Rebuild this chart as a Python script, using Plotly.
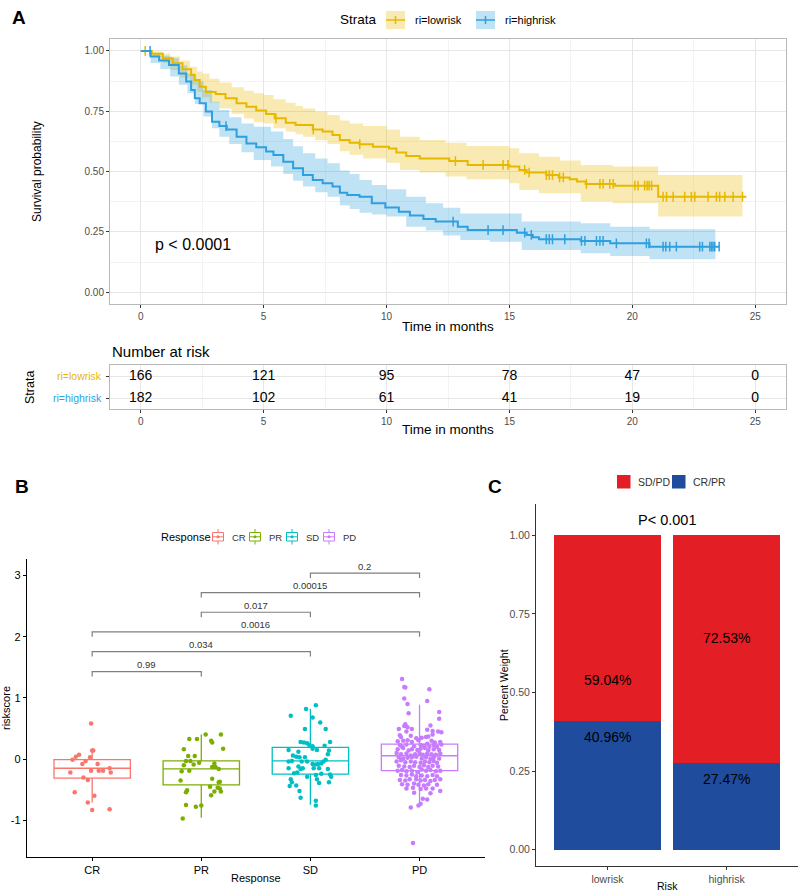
import bisect
import plotly.graph_objects as go

W, H = 800, 892
FONT = "Liberation Sans, Arial, Helvetica, sans-serif"

# ---------------- Panel A : Kaplan-Meier data ----------------
strata = ["ri=lowrisk", "ri=highrisk"]

low_time = [0, 0.45, 0.9, 1.3, 1.7, 2.05, 2.2, 2.4, 2.65, 3.05, 3.45, 3.9, 4.3, 4.7, 5.1,
            5.45, 5.9, 6.3, 7.0, 7.4, 7.8, 8.1, 8.5, 8.9, 9.45, 10.1, 10.4, 10.8, 11.35, 12.55,
            13.3, 15.0, 15.4, 15.7, 16.5, 17.0, 17.45, 17.75, 18.1, 19.3, 21.05, 24.64]
low_surv = [1.0, 0.988, 0.97, 0.949, 0.924, 0.90, 0.88, 0.852, 0.83, 0.822, 0.804, 0.783, 0.769,
            0.753, 0.739, 0.721, 0.703, 0.693, 0.675, 0.666, 0.652, 0.631, 0.62, 0.614, 0.603,
            0.596, 0.579, 0.565, 0.555, 0.544, 0.528, 0.521, 0.507, 0.496, 0.486, 0.476, 0.468,
            0.459, 0.449, 0.442, 0.396, 0.396]
low_band_time = [0, 0.5, 0.9, 1.2, 1.6, 2.0, 2.3, 2.5, 2.8, 3.2, 3.7, 4.2, 4.6, 5.0, 5.4, 5.9,
                 6.3, 6.6, 7.1, 7.6, 8.1, 8.5, 9.05, 10.0, 10.55, 11.35, 12.4, 13.25, 15.0, 15.4,
                 16.2, 17.05, 17.9, 19.2, 21.05, 24.48]
low_upper = [1.0, 0.998, 0.99, 0.977, 0.96, 0.935, 0.915, 0.907, 0.885, 0.869, 0.85, 0.835, 0.825,
             0.818, 0.80, 0.785, 0.772, 0.762, 0.748, 0.735, 0.712, 0.70, 0.689, 0.675, 0.645,
             0.631, 0.62, 0.606, 0.597, 0.576, 0.562, 0.546, 0.528, 0.521, 0.486, 0.486]
low_lower = [1.0, 0.975, 0.95, 0.921, 0.89, 0.86, 0.83, 0.808, 0.785, 0.762, 0.74, 0.72, 0.705,
             0.70, 0.68, 0.665, 0.655, 0.645, 0.63, 0.615, 0.585, 0.57, 0.555, 0.537, 0.507,
             0.496, 0.48, 0.468, 0.452, 0.424, 0.41, 0.41, 0.376, 0.369, 0.314, 0.314]
low_censor = [0.18, 5.5, 7.02, 8.91, 12.8, 13.93, 14.74, 14.94, 15.62, 15.8, 16.5, 16.62, 16.75,
              17.04, 17.19, 18.13, 18.68, 18.81, 19.08, 19.22, 20.1, 20.23, 20.5, 20.6, 20.68,
              20.78, 21.25, 21.39, 21.66, 22.13, 22.4, 22.54, 23.08, 23.42, 23.55, 23.76, 24.1, 24.48]

high_time = [0, 0.4, 0.75, 1.15, 1.55, 1.85, 2.05, 2.2, 2.4, 2.65, 2.9, 3.2, 3.5, 3.9, 4.3, 4.7,
             5.1, 5.4, 5.8, 6.2, 6.6, 7.0, 7.4, 7.8, 8.1, 8.4, 8.9, 9.4, 9.95, 10.5, 10.95, 11.5,
             12.0, 12.9, 13.3, 15.3, 15.7, 15.95, 16.2, 17.9, 19.1, 20.7, 23.55]
high_surv = [1.0, 0.977, 0.96, 0.942, 0.907, 0.873, 0.838, 0.804, 0.783, 0.749, 0.707, 0.689,
             0.675, 0.645, 0.617, 0.601, 0.583, 0.569, 0.541, 0.514, 0.486, 0.465, 0.452, 0.438,
             0.413, 0.403, 0.396, 0.369, 0.351, 0.334, 0.318, 0.304, 0.293, 0.272, 0.258, 0.247,
             0.238, 0.228, 0.22, 0.213, 0.203, 0.189, 0.189]
high_band_time = [0, 0.4, 0.8, 1.2, 1.55, 1.9, 2.2, 2.55, 2.9, 3.2, 3.6, 4.1, 4.6, 5.3, 5.8, 6.2,
                  6.6, 7.1, 7.6, 8.1, 8.5, 8.9, 9.4, 10.0, 10.8, 11.6, 12.3, 13.0, 14.2, 15.5, 17.9,
                  19.1, 20.7, 23.38]
high_upper = [1.0, 0.99, 0.98, 0.97, 0.94, 0.907, 0.875, 0.838, 0.79, 0.755, 0.725, 0.70, 0.686,
              0.666, 0.635, 0.605, 0.576, 0.555, 0.535, 0.505, 0.49, 0.465, 0.445, 0.427, 0.396,
              0.369, 0.35, 0.327, 0.327, 0.293, 0.286, 0.272, 0.261, 0.261]
high_lower = [1.0, 0.95, 0.925, 0.894, 0.86, 0.825, 0.78, 0.728, 0.68, 0.645, 0.615, 0.58, 0.548,
              0.521, 0.49, 0.462, 0.438, 0.415, 0.396, 0.36, 0.345, 0.33, 0.322, 0.314, 0.272,
              0.256, 0.235, 0.217, 0.21, 0.175, 0.162, 0.151, 0.137, 0.137]
high_censor = [0.38, 3.47, 12.71, 14.13, 14.74, 15.62, 15.89, 16.5, 16.62, 16.75, 17.25, 17.93,
               18.07, 18.54, 18.68, 18.81, 19.35, 20.57, 20.68, 21.25, 21.36, 21.52, 21.79,
               22.74, 22.85, 23.15, 23.22, 23.28, 23.35, 23.53]

risk_times = [0, 5, 10, 15, 20, 25]
risk_low = [166, 121, 95, 78, 47, 0]
risk_high = [182, 102, 61, 41, 19, 0]
p_text = "p < 0.0001"

# ---------------- Panel B : riskscore by response ----------------
response_cats = ["CR", "PR", "SD", "PD"]
box_q1 = [-0.31, -0.42, -0.245, -0.19]
box_med = [-0.15, -0.16, -0.03, 0.055]
box_q3 = [-0.01, -0.03, 0.19, 0.245]
box_lo = [-0.71, -0.96, -0.745, -0.78]
box_hi = [0.14, 0.40, 0.82, 0.89]

cr_points = [(-0.01, 0.58), (0.00, 0.14), (0.01, 0.14), (-0.02, 0.03), (-0.12, 0.07), (-0.15, 0.04),
             (-0.18, -0.01), (-0.06, -0.03), (-0.09, -0.08), (0.05, -0.08), (-0.01, -0.19),
             (0.06, -0.19), (0.10, -0.19), (0.16, -0.15), (0.17, -0.22), (-0.20, -0.22),
             (-0.08, -0.30), (-0.04, -0.34), (-0.16, -0.54), (0.02, -0.60), (-0.04, -0.71),
             (0.00, -0.83), (0.16, -0.82)]
pr_points = [(0.04, 0.40), (0.18, 0.40), (-0.11, 0.33), (-0.04, 0.33), (0.09, 0.30), (0.10, 0.27),
             (0.20, 0.17), (-0.16, 0.16), (-0.12, 0.05), (-0.06, 0.05), (-0.14, -0.03),
             (-0.10, -0.03), (-0.02, -0.06), (-0.07, -0.09), (-0.16, -0.10), (0.10, -0.13),
             (0.12, -0.12), (0.13, -0.13), (0.12, -0.07), (0.16, -0.16), (-0.18, -0.20),
             (-0.11, -0.19), (-0.19, -0.35), (0.10, -0.32), (0.16, -0.38), (0.17, -0.37),
             (0.08, -0.45), (0.15, -0.47), (0.17, -0.48), (-0.13, -0.51), (-0.14, -0.54),
             (0.12, -0.53), (0.18, -0.53), (0.09, -0.59), (-0.14, -0.75), (-0.05, -0.78),
             (0.00, -0.76), (-0.17, -0.97)]
sd_points = [(0.05, 0.88), (-0.04, 0.82), (-0.18, 0.71), (0.02, 0.68), (0.09, 0.60), (-0.05, 0.49),
             (0.14, 0.49), (-0.09, 0.28), (-0.06, 0.27), (-0.03, 0.26), (-0.01, 0.23), (0.02, 0.21),
             (0.02, 0.17), (0.13, 0.22), (0.18, 0.28), (0.17, 0.14), (0.16, 0.08), (0.06, 0.15),
             (-0.20, 0.15), (-0.16, 0.06), (-0.11, 0.12), (-0.13, 0.04), (-0.10, 0.03),
             (-0.05, 0.03), (-0.20, -0.04), (-0.17, -0.03), (-0.08, -0.04), (-0.03, -0.04),
             (0.02, -0.08), (0.05, -0.09), (0.07, -0.08), (0.10, -0.07), (0.12, -0.04),
             (0.14, -0.01), (-0.20, -0.15), (-0.11, -0.12), (-0.09, -0.16), (-0.07, -0.15),
             (0.03, -0.15), (0.08, -0.15), (0.16, -0.16), (-0.15, -0.23), (-0.12, -0.22),
             (-0.03, -0.29), (0.05, -0.26), (0.10, -0.24), (0.18, -0.25), (0.19, -0.29),
             (-0.18, -0.33), (-0.17, -0.38), (0.06, -0.33), (0.08, -0.39), (0.17, -0.38),
             (-0.19, -0.44), (-0.13, -0.43), (-0.10, -0.52), (-0.09, -0.63), (0.05, -0.68),
             (0.05, -0.76)]
pd_points = [(-0.16, 1.31), (-0.14, 1.18), (-0.13, 1.17), (0.09, 1.14), (-0.14, 0.99), (0.07, 0.95),
             (-0.11, 0.90), (-0.10, 0.75), (0.18, 0.77), (0.18, 0.66), (-0.13, 0.57), (-0.19, 0.49),
             (-0.14, 0.54), (-0.11, 0.52), (-0.07, 0.49), (-0.12, 0.45), (0.10, 0.55), (0.12, 0.46),
             (0.17, 0.45), (0.20, 0.44), (0.07, 0.48), (0.12, 0.40), (0.06, 0.36), (-0.18, 0.39),
             (-0.17, 0.36), (-0.08, 0.38), (-0.03, 0.34), (0.02, 0.35), (0.08, 0.37),
             (-0.20, 0.29), (-0.15, 0.30), (-0.11, 0.31), (-0.07, 0.28), (-0.01, 0.31), (0.11, 0.30),
             (0.14, 0.27), (0.19, 0.28),
             (-0.18, 0.23), (-0.16, 0.20), (-0.12, 0.24), (-0.05, 0.21), (0.01, 0.23), (0.04, 0.22),
             (0.07, 0.25), (0.09, 0.20), (0.13, 0.23), (0.16, 0.20), (0.20, 0.24),
             (-0.20, 0.16), (-0.15, 0.18), (-0.10, 0.14), (-0.07, 0.16), (-0.02, 0.15), (0.01, 0.17),
             (0.05, 0.18), (0.08, 0.14), (0.13, 0.16), (0.18, 0.15),
             (-0.21, 0.10), (-0.17, 0.08), (-0.12, 0.09), (-0.08, 0.06), (-0.04, 0.08), (0.00, 0.10),
             (0.03, 0.07), (0.07, 0.09), (0.11, 0.08), (0.15, 0.07), (0.19, 0.09),
             (-0.19, 0.03), (-0.15, 0.01), (-0.11, 0.02), (-0.07, 0.03), (-0.03, 0.04), (0.02, 0.01),
             (0.06, 0.03), (0.10, 0.00), (0.13, 0.03), (0.18, 0.01),
             (-0.21, -0.04), (-0.17, -0.02), (-0.13, -0.05), (-0.08, -0.04), (-0.04, -0.05),
             (0.01, -0.06), (0.05, -0.04), (0.09, -0.05), (0.13, -0.03), (0.16, -0.06),
             (-0.19, -0.11), (-0.14, -0.12), (-0.09, -0.13), (-0.05, -0.11), (0.00, -0.13),
             (0.04, -0.10), (0.08, -0.13), (0.12, -0.11), (0.17, -0.12),
             (-0.20, -0.19), (-0.16, -0.18), (-0.12, -0.20), (-0.07, -0.19), (-0.02, -0.21),
             (0.02, -0.17), (0.06, -0.19), (0.10, -0.18), (0.15, -0.20), (0.19, -0.19),
             (-0.17, -0.26), (-0.12, -0.27), (-0.07, -0.25), (-0.03, -0.28), (0.02, -0.27),
             (0.07, -0.28), (0.12, -0.26), (0.16, -0.28),
             (-0.18, -0.34), (-0.13, -0.35), (-0.09, -0.33), (-0.03, -0.33), (0.01, -0.35),
             (0.05, -0.34), (0.10, -0.36), (0.14, -0.34), (0.19, -0.33),
             (-0.16, -0.41), (-0.11, -0.42), (-0.05, -0.40), (-0.01, -0.42), (0.04, -0.43),
             (0.08, -0.41), (0.16, -0.42),
             (-0.12, -0.48), (-0.06, -0.47), (0.01, -0.49), (0.06, -0.48), (0.12, -0.48), (0.19, -0.52),
             (-0.05, -0.55), (0.10, -0.56), (0.03, -0.65), (0.07, -0.66), (0.01, -0.73),
             (-0.01, -0.76), (-0.08, -0.79), (-0.06, -1.37)]
group_points = [cr_points, pr_points, sd_points, pd_points]

cmp_pairs = [("SD", "PD"), ("PR", "PD"), ("PR", "SD"), ("CR", "PD"), ("CR", "SD"), ("CR", "PR")]
cmp_p = ["0.2", "0.00015", "0.017", "0.0016", "0.034", "0.99"]
cmp_y = [3.04, 2.72, 2.40, 2.08, 1.755, 1.43]

# ---------------- Panel C : stacked proportions ----------------
risk_groups = ["lowrisk", "highrisk"]
crpr_frac = [0.4096, 0.2747]
sdpd_frac = [0.5904, 0.7253]
c_p_text = "P< 0.001"

# ---------------- styles ----------------
ORANGE, BLUE = "#E7B800", "#2E9FDF"
ORANGE_F, BLUE_F = "rgba(231,184,0,0.30)", "rgba(46,159,223,0.30)"
RESP_COLORS = ["#F8766D", "#7CAE00", "#00BFC4", "#C77CFF"]
RED, NAVY = "#E31E24", "#1F4C9C"


def PX(x):
    return x / W


def PY(y):
    return 1 - y / H


fig = go.Figure()
shapes, annots = [], []


def text_px(x, y, text, size, color="black", xanchor="center", yanchor="middle", angle=0, bold=False):
    annots.append(dict(xref="paper", yref="paper", x=PX(x), y=PY(y), text=("<b>%s</b>" % text) if bold else text,
                       showarrow=False, xanchor=xanchor, yanchor=yanchor, textangle=angle,
                       font=dict(size=size, color=color, family=FONT)))


def rect_px(x0, y0, x1, y1, fill, line=None, lw=0):
    shapes.append(dict(type="rect", xref="paper", yref="paper", x0=PX(x0), x1=PX(x1), y0=PY(y0), y1=PY(y1),
                       fillcolor=fill, line=dict(color=line or fill, width=lw), layer="above"))


def line_px(x0, y0, x1, y1, color, lw=1):
    shapes.append(dict(type="line", xref="paper", yref="paper", x0=PX(x0), x1=PX(x1), y0=PY(y0), y1=PY(y1),
                       line=dict(color=color, width=lw), layer="above"))


def step_value(ts, ss, t):
    return ss[max(0, bisect.bisect_right(ts, t) - 1)]


# ---- Panel A traces
for bt, lo, up, fc in [(low_band_time, low_lower, low_upper, ORANGE_F),
                       (high_band_time, high_lower, high_upper, BLUE_F)]:
    fig.add_trace(go.Scatter(x=bt, y=lo, mode="lines", line=dict(width=0, shape="hv"),
                             hoverinfo="skip", showlegend=False, xaxis="x", yaxis="y"))
    fig.add_trace(go.Scatter(x=bt, y=up, mode="lines", line=dict(width=0, shape="hv"), fill="tonexty",
                             fillcolor=fc, hoverinfo="skip", showlegend=False, xaxis="x", yaxis="y"))
for ts, ss, cs, col in [(low_time, low_surv, low_censor, ORANGE), (high_time, high_surv, high_censor, BLUE)]:
    fig.add_trace(go.Scatter(x=ts, y=ss, mode="lines", line=dict(color=col, width=2, shape="hv"),
                             showlegend=False, xaxis="x", yaxis="y"))
    fig.add_trace(go.Scatter(x=cs, y=[step_value(ts, ss, t) for t in cs], mode="markers",
                             marker=dict(symbol="line-ns", size=7, line=dict(color=col, width=1.5)),
                             showlegend=False, xaxis="x", yaxis="y"))

annots.append(dict(xref="x", yref="y", x=0.5, y=0.2, text=p_text, showarrow=False, xanchor="left",
                   font=dict(size=16, color="black", family=FONT)))

# risk table
fig.add_trace(go.Scatter(x=risk_times, y=[2] * len(risk_times), text=[str(v) for v in risk_low], mode="text",
                         textfont=dict(size=14, color="black", family=FONT), showlegend=False, xaxis="x2", yaxis="y2"))
fig.add_trace(go.Scatter(x=risk_times, y=[1] * len(risk_times), text=[str(v) for v in risk_high], mode="text",
                         textfont=dict(size=14, color="black", family=FONT), showlegend=False, xaxis="x2", yaxis="y2"))
for lab, yy, col in [(strata[0], 2, ORANGE), (strata[1], 1, BLUE)]:
    annots.append(dict(xref="paper", yref="y2", x=PX(104), y=yy, text=lab, showarrow=False, xanchor="right",
                       font=dict(size=10.5, color=col, family=FONT)))

# ---- Panel B traces
for i, cat in enumerate(response_cats):
    fig.add_trace(go.Box(x=[i], q1=[box_q1[i]], median=[box_med[i]], q3=[box_q3[i]],
                         lowerfence=[box_lo[i]], upperfence=[box_hi[i]], width=0.7, whiskerwidth=0,
                         boxpoints=False, fillcolor="rgba(255,255,255,0)",
                         line=dict(color=RESP_COLORS[i], width=1.3), showlegend=False,
                         hoverinfo="skip", xaxis="x3", yaxis="y3"))
for i, pts in enumerate(group_points):
    fig.add_trace(go.Scatter(x=[i + p[0] for p in pts], y=[p[1] for p in pts], mode="markers",
                             marker=dict(color=RESP_COLORS[i], size=4.5), showlegend=False,
                             xaxis="x3", yaxis="y3"))
tip = 0.08
for (a, b), ptxt, yy in zip(cmp_pairs, cmp_p, cmp_y):
    xa, xb = response_cats.index(a), response_cats.index(b)
    shapes.append(dict(type="path", xref="x3", yref="y3",
                       path="M %g,%g L %g,%g L %g,%g L %g,%g" % (xa, yy - tip, xa, yy, xb, yy, xb, yy - tip),
                       line=dict(color="#7F7F7F", width=1.2)))
    annots.append(dict(xref="x3", yref="y3", x=(xa + xb) / 2, y=yy, yshift=7, text=ptxt, showarrow=False,
                       font=dict(size=9.5, color="#333333", family=FONT)))

# ---- Panel C traces
fig.add_trace(go.Bar(x=[0, 1], y=crpr_frac, marker=dict(color=NAVY, line=dict(width=0)), width=0.9,
                     showlegend=False, xaxis="x4", yaxis="y4"))
fig.add_trace(go.Bar(x=[0, 1], y=sdpd_frac, marker=dict(color=RED, line=dict(width=0)), width=0.9,
                     showlegend=False, xaxis="x4", yaxis="y4"))
for i in range(len(risk_groups)):
    for v in (crpr_frac[i], sdpd_frac[i]):
        annots.append(dict(xref="x4", yref="y4", x=i, y=v, yshift=-16, text="%.2f%%" % (v * 100),
                           showarrow=False, font=dict(size=14, color="black", family=FONT)))

# ---------------- manual legends / labels ----------------
text_px(10, 18, "A", 19, bold=True, xanchor="left")
text_px(13, 486, "B", 19, bold=True, xanchor="left")
text_px(486, 486, "C", 19, bold=True, xanchor="left")

# Panel A legend
text_px(338, 20, "Strata", 13.5, xanchor="left")
for x0, lab, col, fc in [(386, strata[0], ORANGE, ORANGE_F), (476, strata[1], BLUE, BLUE_F)]:
    rect_px(x0, 11, x0 + 19, 29, fc)
    line_px(x0, 20, x0 + 19, 20, col, 1.5)
    line_px(x0 + 9.5, 16, x0 + 9.5, 24, col, 1.5)
    text_px(x0 + 27, 20, lab, 11, xanchor="left")

text_px(37, 172, "Survival probability", 12, angle=-90)
text_px(448, 326, "Time in months", 13.5)
text_px(110, 351, "Number at risk", 15, xanchor="left")
text_px(30, 388, "Strata", 12.5, angle=-90)
text_px(448, 430, "Time in months", 13.5)

# Panel B legend and titles
text_px(159, 537, "Response", 11, xanchor="left")
for i, cat in enumerate(response_cats):
    ax = 212 + 37 * i
    col = RESP_COLORS[i]
    rect_px(ax + 0.5, 532.5, ax + 11.5, 541, "rgba(255,255,255,0)", col, 1)
    line_px(ax + 0.5, 536.8, ax + 11.5, 536.8, col, 1)
    line_px(ax + 6, 529, ax + 6, 532.5, col, 1)
    line_px(ax + 6, 541, ax + 6, 544.5, col, 1)
    shapes.append(dict(type="circle", xref="paper", yref="paper", x0=PX(ax + 4.5), x1=PX(ax + 7.5),
                       y0=PY(538.3), y1=PY(535.3), fillcolor=col, line=dict(width=0), layer="above"))
    text_px(ax + 18, 537, cat, 9.5, color="#333333", xanchor="left")
text_px(6, 708, "riskscore", 11, angle=-90)
text_px(256, 878, "Response", 11)

# Panel C legend and titles
for x0, lab, col in [(617, "SD/PD", RED), (672, "CR/PR", NAVY)]:
    rect_px(x0, 475, x0 + 13.5, 488.5, col)
    text_px(x0 + 19, 482, lab, 10.5, color="#333333", xanchor="left")
text_px(667, 520, c_p_text, 14.5)
text_px(504, 685, "Percent Weight", 10.5, angle=-90)
text_px(667, 886, "Risk", 10.5)

TICKGRAY = "#4D4D4D"
km_x = dict(range=[-1.25, 26.25], tick0=0, dtick=5, ticks="outside", ticklen=3, tickcolor="#333333",
            tickfont=dict(size=10, color=TICKGRAY), showgrid=True, gridcolor="#E6E6E6", gridwidth=1,
            minor=dict(dtick=2.5, tick0=0, showgrid=True, gridcolor="#F3F3F3", gridwidth=0.8),
            showline=True, mirror=True, linecolor="#B8B8B8", linewidth=1, zeroline=False,
            domain=[PX(110), PX(786)])

fig.update_layout(
    width=W, height=H, margin=dict(l=0, r=0, t=0, b=0),
    paper_bgcolor="white", plot_bgcolor="white",
    font=dict(family=FONT, color="black"),
    barmode="stack", showlegend=False,
    xaxis=dict(km_x, anchor="y"),
    yaxis=dict(range=[-0.05, 1.05], tick0=0, dtick=0.25, tickformat=".2f", ticks="outside", ticklen=3,
               tickcolor="#333333", tickfont=dict(size=10, color=TICKGRAY), showgrid=True,
               gridcolor="#E6E6E6", minor=dict(dtick=0.125, tick0=0, showgrid=True, gridcolor="#F3F3F3",
                                               gridwidth=0.8),
               showline=True, mirror=True, linecolor="#B8B8B8", zeroline=False,
               domain=[PY(304.4), PY(38.9)], anchor="x"),
    xaxis2=dict(km_x, anchor="y2"),
    yaxis2=dict(range=[0.5, 2.5], tickvals=[1, 2], showticklabels=False, ticks="outside", ticklen=3,
                tickcolor="#333333", showgrid=True, gridcolor="#E6E6E6", showline=True, mirror=True,
                linecolor="#B8B8B8", zeroline=False, domain=[PY(409), PY(365)], anchor="x2"),
    xaxis3=dict(range=[-0.6, 3.6], tickvals=list(range(len(response_cats))), ticktext=response_cats,
                ticks="outside", ticklen=3, tickcolor="black", tickfont=dict(size=11, color="black"),
                showgrid=False, zeroline=False, showline=True, linecolor="black", linewidth=1,
                domain=[PX(26.7), PX(485)], anchor="y3"),
    yaxis3=dict(range=[-1.6, 3.27], tickvals=[-1, 0, 1, 2, 3], ticktext=["-1", "0", "1", "2", "3"],
                ticks="outside", ticklen=3, tickcolor="black",
                tickfont=dict(size=11, color="black"), showgrid=False, zeroline=False, showline=True,
                linecolor="black", linewidth=1, domain=[PY(857), PY(559)], anchor="x3"),
    xaxis4=dict(range=[-0.6, 1.6], tickvals=[0, 1], ticktext=risk_groups, ticks="outside", ticklen=3,
                tickcolor="#333333", tickfont=dict(size=10.5, color=TICKGRAY), showgrid=False, zeroline=False,
                showline=True, linecolor="#333333", linewidth=1, domain=[PX(536), PX(798)], anchor="y4"),
    yaxis4=dict(range=[-0.052, 1.10], tickvals=[0, 0.25, 0.5, 0.75, 1.0], tickformat=".2f", ticks="outside",
                ticklen=3, tickcolor="#333333", tickfont=dict(size=10.5, color=TICKGRAY), showgrid=False,
                zeroline=False, showline=True, linecolor="#333333", linewidth=1,
                domain=[PY(866), PY(504)], anchor="x4"),
    shapes=shapes, annotations=annots,
)

fig.write_html("out.html", config={"displayModeBar": False},
               post_script="document.body.style.margin='0';")
